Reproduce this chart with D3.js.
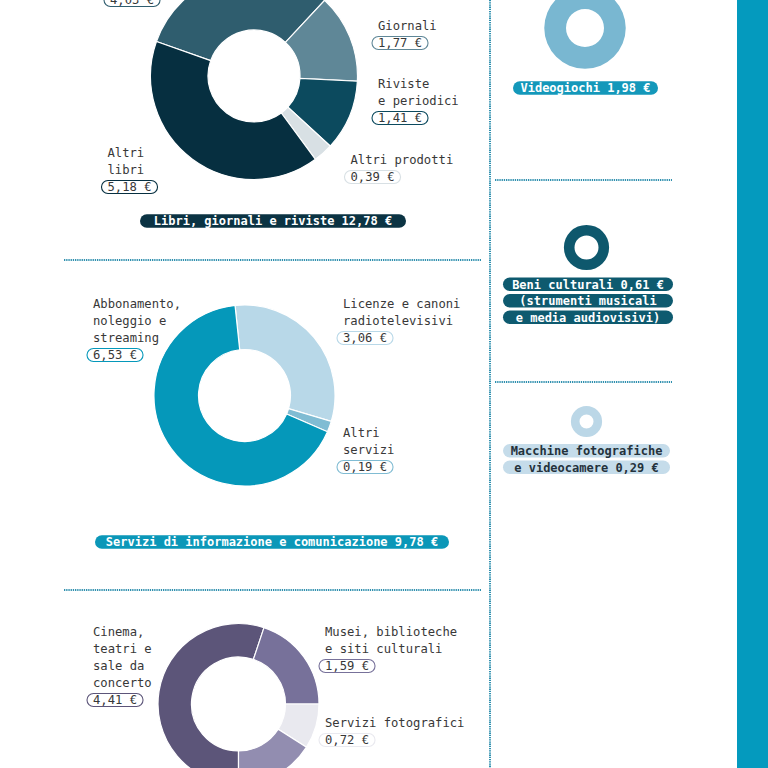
<!DOCTYPE html>
<html>
<head>
<meta charset="utf-8">
<script src="https://cdn.jsdelivr.net/npm/d3@7"></script>
<style>
  html, body { margin: 0; padding: 0; background: #fff; }
  svg { display: block; }
  text { font-family: "DejaVu Sans Mono", "Liberation Mono", monospace; }
</style>
</head>
<body>
<svg id="chart" width="768" height="768"></svg>
<script>
// ---------------- DATA ----------------
// Libri, giornali e riviste
const booksCats   = ["Libri scolastici", "Giornali", "Riviste e periodici", "Altri prodotti", "Altri libri"];
const booksValues = [4.03, 1.77, 1.41, 0.39, 5.18];
const booksLabels = [[], ["Giornali"], ["Riviste", "e periodici"], ["Altri prodotti"], ["Altri", "libri"]];
const booksTitle  = "Libri, giornali e riviste";

// Servizi di informazione e comunicazione
const infoCats   = ["Licenze e canoni radiotelevisivi", "Altri servizi", "Abbonamento, noleggio e streaming"];
const infoValues = [3.06, 0.19, 6.53];
const infoLabels = [["Licenze e canoni", "radiotelevisivi"], ["Altri", "servizi"], ["Abbonamento,", "noleggio e", "streaming"]];
const infoTitle  = "Servizi di informazione e comunicazione";

// Servizi ricreativi e culturali (bottom, partially visible)
const recCats   = ["Cinema, teatri e sale da concerto", "Musei, biblioteche e siti culturali", "Servizi fotografici", "Altri servizi"];
const recValues = [4.41, 1.59, 0.72, 1.28];
const recLabels = [["Cinema,", "teatri e", "sale da", "concerto"], ["Musei, biblioteche", "e siti culturali"], ["Servizi fotografici"], []];

// Single-category donuts (right column)
const smallCats   = ["Videogiochi", "Beni culturali", "Macchine fotografiche e videocamere"];
const smallValues = [1.98, 0.61, 0.29];
const smallTitles = [["Videogiochi {v}"], ["Beni culturali {v}", "(strumenti musicali", "e media audiovisivi)"], ["Macchine fotografiche", "e videocamere {v}"]];

// ---------------- STYLE / LAYOUT ----------------
const booksColors = ["#2f5d6e", "#5f8797", "#0c4a5e", "#d8e0e4", "#062f40"];
const infoColors  = ["#b8d8e8", "#80bcd3", "#0598ba"];
const recColors   = ["#5c5579", "#77719a", "#e9e9ef", "#928db0"];
const smallColors = ["#79b7d1", "#0e586d", "#bbd7e7"];
const smallPill   = [{bg: "#1498ba", fg: "#ffffff"}, {bg: "#0e5a6f", fg: "#ffffff"}, {bg: "#c5dcea", fg: "#24323c"}];

const euro = d3.formatLocale({decimal: ",", thousands: ".", grouping: [3], currency: ["", " €"]});
const fmt = v => euro.format(".2f")(v) + " €";

const rScale = d3.scaleSqrt().domain([0, d3.sum(booksValues)]).range([0, 103.5]);

const svg = d3.select("#chart");

// background right strip
svg.append("rect").attr("x", 737).attr("y", 0).attr("width", 31).attr("height", 768).attr("fill", "#049abe");

// dotted separators
const dotted = (x1, y1, x2, y2) => svg.append("line")
  .attr("x1", x1).attr("y1", y1).attr("x2", x2).attr("y2", y2)
  .attr("stroke", "#2e8fae").attr("stroke-width", 2).attr("stroke-dasharray", "1.3,0.9");
dotted(490, 0, 490, 768);
dotted(64, 260, 481, 260);
dotted(64, 590, 481, 590);
dotted(495, 180, 672, 180);
dotted(495, 382, 672, 382);

function donut(values, colors, cx, cy, rIn, start, rOutOverride) {
  const pie = d3.pie().sort(null).value(d => d)
    .startAngle(start * Math.PI / 180).endAngle(start * Math.PI / 180 + 2 * Math.PI);
  const rOut = rOutOverride || rScale(d3.sum(values));
  const arc = d3.arc().innerRadius(rIn).outerRadius(rOut);
  const g = svg.append("g").attr("transform", `translate(${cx},${cy})`);
  g.selectAll("path").data(pie(values)).join("path")
    .attr("d", arc)
    .attr("fill", (d, i) => colors[i])
    .attr("stroke", values.length > 1 ? "#ffffff" : "none")
    .attr("stroke-width", 1.2);
}

function label(lines, value, color, x, y0, lh) {
  const g = svg.append("g");
  lines.forEach((t, i) => {
    g.append("text").attr("x", x).attr("y", y0 + i * lh)
      .attr("font-size", 12.2).attr("fill", "#383838").text(t);
  });
  const by = y0 + lines.length * lh - 4; // badge center
  const bt = g.append("text").attr("x", x).attr("y", by + 4)
    .attr("font-size", 12.2).attr("fill", "#383838").text(fmt(value));
  const w = bt.node().getComputedTextLength();
  g.insert("rect", "text:last-child")
    .attr("x", x - 6).attr("y", by - 6.5).attr("width", w + 12).attr("height", 13)
    .attr("rx", 6.5).attr("fill", "#fff").attr("stroke", color).attr("stroke-width", 1.1);
}

function pill(text, cx, cy, w, bg, fg) {
  svg.append("rect").attr("x", cx - w / 2).attr("y", cy - 6.8).attr("width", w).attr("height", 13.6)
    .attr("rx", 6.8).attr("fill", bg);
  svg.append("text").attr("x", cx).attr("y", cy + 4.2).attr("text-anchor", "middle")
    .attr("font-size", 12).attr("font-weight", "bold").attr("fill", fg).text(text);
}

// ---- Libri, giornali e riviste ----
donut(booksValues, booksColors, 254, 76, 46, -70.5);
label(booksLabels[0], booksValues[0], booksColors[0], 110, 4, 17);
label(booksLabels[1], booksValues[1], booksColors[1], 378, 30, 17);
label(booksLabels[2], booksValues[2], booksColors[2], 378, 88, 17);
label(booksLabels[3], booksValues[3], booksColors[3], 350.5, 164, 17);
label(booksLabels[4], booksValues[4], booksColors[4], 107.5, 157, 17);
pill(`${booksTitle} ${fmt(d3.sum(booksValues))}`, 273, 221, 266, "#0b3343", "#fff");

// ---- Servizi di informazione e comunicazione ----
donut(infoValues, infoColors, 244.5, 395.5, 46, -6);
label(infoLabels[0], infoValues[0], infoColors[0], 343, 308, 17);
label(infoLabels[1], infoValues[1], infoColors[1], 343, 437, 17);
label(infoLabels[2], infoValues[2], infoColors[2], 93, 308, 17);
pill(`${infoTitle} ${fmt(d3.sum(infoValues))}`, 272, 542, 354, "#0b97b8", "#fff");

// ---- Servizi ricreativi e culturali ----
donut(recValues, recColors, 238.5, 704, 47, 180, 80.5);
label(recLabels[0], recValues[0], recColors[0], 93, 636, 17);
label(recLabels[1], recValues[1], recColors[1], 325, 636, 17);
label(recLabels[2], recValues[2], recColors[2], 325, 727, 17);

// ---- Right column ----
const smallLayout = [
  {cx: 585, cy: 28, rIn: 19, pillY: 88, pillW: 145, pillX: 585.5},
  {cx: 586.5, cy: 247.5, rIn: 12, pillY: 284.3, pillW: 170, pillX: 588},
  {cx: 586.5, cy: 421.5, rIn: 7, pillY: 450.8, pillW: 167, pillX: 586.5}
];
smallValues.forEach((v, i) => {
  const L = smallLayout[i];
  donut([v], [smallColors[i]], L.cx, L.cy, L.rIn, 0);
  smallTitles[i].forEach((t, j) => {
    pill(t.replace("{v}", fmt(v)), L.pillX, L.pillY + j * 16.5, L.pillW, smallPill[i].bg, smallPill[i].fg);
  });
});
</script>
</body>
</html>
